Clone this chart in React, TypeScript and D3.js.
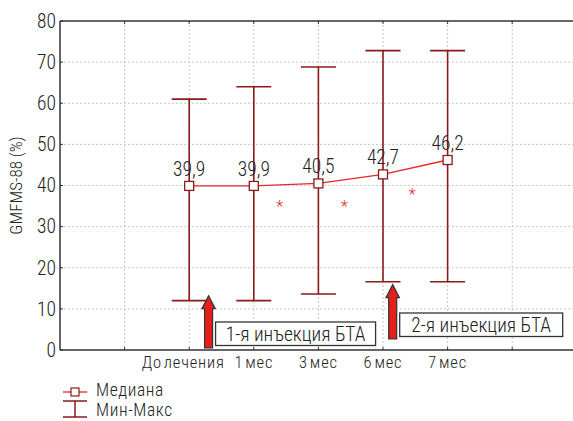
import React from "react";
import * as d3 from "d3";

const categories = ["До лечения", "1 мес", "3 мес", "6 мес", "7 мес"];
const categorySlots = [2, 3, 4, 5, 6];
const medians = [39.9, 39.9, 40.5, 42.7, 46.2];
const medianLabels = ["39,9", "39,9", "40,5", "42,7", "46,2"];
const mins = [12, 12, 13.6, 16.6, 16.6];
const maxs = [61, 64, 68.8, 72.8, 72.8];
const yTicks = [0, 10, 20, 30, 40, 50, 60, 70, 80];
const gridSlots = [1, 2, 3, 4, 5, 6, 7, 8];
const asteriskSlots = [3.4, 4.4, 5.45];
const asteriskValues = [35.4, 35.4, 38.4];
const injections = [
  { slot: 2.3, tipValue: 13.2, label: "1-я инъекция БТА" },
  { slot: 5.15, tipValue: 15.9, label: "2-я инъекция БТА" },
];

const FONT = "'Liberation Sans Narrow', 'Roboto Condensed', 'Arial Narrow', 'DejaVu Sans Condensed', sans-serif";

export default function App() {
  const W = 573, H = 421;
  const left = 60, top = 21, bottom = 350;
  const x = d3.scaleLinear().domain([0, 8]).range([left, left + 8 * 64.6]);
  const y = d3.scaleLinear().domain([0, 80]).range([bottom, top]);
  const errColor = "#8b1a1a";
  const lineColor = "#e8262a";
  const line = d3
    .line<number>()
    .x((_, i) => x(categorySlots[i]))
    .y((d) => y(d));
  const capHalf = 17.5;

  return (
    <svg width={W} height={H} style={{ position: "absolute", left: 0, top: 0, fontFamily: FONT, fontWeight: 300 }}>
      <rect x={0} y={0} width={W} height={H} fill="#fff" />
      {/* grid */}
      {yTicks.slice(1, -1).map((t) => (
        <line key={"gy" + t} x1={left} x2={W} y1={y(t)} y2={y(t)} stroke="#c8c8c8" strokeDasharray="2,2" />
      ))}
      {gridSlots.map((s) => (
        <line key={"gx" + s} x1={x(s)} x2={x(s)} y1={top} y2={bottom} stroke="#c8c8c8" strokeDasharray="2,2" />
      ))}
      {/* axes */}
      <line x1={left} x2={W} y1={top} y2={top} stroke="#333" strokeWidth={1.5} />
      <line x1={left} x2={W} y1={bottom} y2={bottom} stroke="#333" strokeWidth={1.5} />
      <line x1={left} x2={left} y1={top} y2={bottom} stroke="#333" strokeWidth={1.5} />
      {gridSlots.map((s) => (
        <g key={"tx" + s}>
          <line x1={x(s)} x2={x(s)} y1={bottom} y2={bottom - 3} stroke="#333" />
          <line x1={x(s)} x2={x(s)} y1={top} y2={top + 3} stroke="#333" />
        </g>
      ))}
      {yTicks.map((t) => (
        <g key={"ty" + t}>
          <line x1={left} x2={left + 3} y1={y(t)} y2={y(t)} stroke="#333" />
          <text x={left - 4} y={y(t)} dy="0.35em" textAnchor="end" fontSize={19.5} fill="#222">
            {t}
          </text>
        </g>
      ))}
      {categories.map((c, i) => (
        <text key={"xl" + c} x={x(categorySlots[i]) - (i === 0 ? 6 : 0)} y={368} textAnchor="middle" fontSize={16.5} letterSpacing={0.8} wordSpacing={-2.5} fill="#222">
          {c}
        </text>
      ))}
      <text transform={`translate(22,${(top + bottom) / 2}) rotate(-90)`} textAnchor="middle" fontSize={17} fill="#222">
        GMFMS-88 (%)
      </text>
      {/* error bars */}
      {categories.map((c, i) => {
        const cx = x(categorySlots[i]);
        return (
          <g key={"eb" + c} stroke={errColor} strokeWidth={1.6}>
            <line x1={cx} x2={cx} y1={y(mins[i])} y2={y(maxs[i])} />
            <line x1={cx - capHalf} x2={cx + capHalf} y1={y(maxs[i])} y2={y(maxs[i])} />
            <line x1={cx - capHalf} x2={cx + capHalf} y1={y(mins[i])} y2={y(mins[i])} />
          </g>
        );
      })}
      {/* median line */}
      <path d={line(medians) || ""} fill="none" stroke={lineColor} strokeWidth={1.3} />
      {medians.map((m, i) => (
        <g key={"m" + i}>
          <rect x={x(categorySlots[i]) - 4.5} y={y(m) - 4.5} width={9} height={9} fill="#fff" stroke={errColor} strokeWidth={1.3} />
          <text x={x(categorySlots[i])} y={y(m) - 10} textAnchor="middle" fontSize={19.5} fill="#222">
            {medianLabels[i]}
          </text>
        </g>
      ))}
      {asteriskSlots.map((s, i) => (
        <text key={"as" + i} x={x(s)} y={y(asteriskValues[i]) + 8} textAnchor="middle" fontSize={17} fill={lineColor}>
          *
        </text>
      ))}
      {/* injection arrows */}
      {injections.map((inj, i) => {
        const cx = x(inj.slot);
        const tip = y(inj.tipValue);
        const headH = 13;
        const headW = 6.7;
        const shaftW = 4;
        const base = i === 0 ? bottom - 2 : bottom - 11;
        const d = `M${cx},${tip} L${cx + headW},${tip + headH} L${cx + shaftW},${tip + headH} L${cx + shaftW},${base} L${cx - shaftW},${base} L${cx - shaftW},${tip + headH} L${cx - headW},${tip + headH} Z`;
        const bx = cx + 7;
        const by = i === 0 ? 322 : 313;
        const bw = i === 0 ? 160 : 163;
        return (
          <g key={"inj" + i}>
            <path d={d} fill="#e3201b" stroke="#333" strokeWidth={1.2} />
            <rect x={bx} y={by} width={bw} height={23.5} fill="#fff" stroke="#333" strokeWidth={1.3} />
            <text x={bx + bw / 2} y={by + 12} dy="0.36em" textAnchor="middle" fontSize={19.5} fill="#222">
              {inj.label}
            </text>
          </g>
        );
      })}
      {/* legend */}
      <g>
        <line x1={63} x2={87} y1={392} y2={392} stroke={lineColor} strokeWidth={1.3} />
        <rect x={71} y={388} width={8} height={8} fill="#fff" stroke={errColor} strokeWidth={1.2} />
        <text x={96} y={390} dy="0.35em" fontSize={17.5} letterSpacing={0.6} fill="#222">Медиана</text>
        <g stroke={errColor} strokeWidth={1.5}>
          <line x1={63} x2={87} y1={401} y2={401} />
          <line x1={63} x2={87} y1={417} y2={417} />
          <line x1={75} x2={75} y1={401} y2={417} />
        </g>
        <text x={96} y={410} dy="0.35em" fontSize={17.5} letterSpacing={0.6} fill="#222">Мин-Макс</text>
      </g>
    </svg>
  );
}
